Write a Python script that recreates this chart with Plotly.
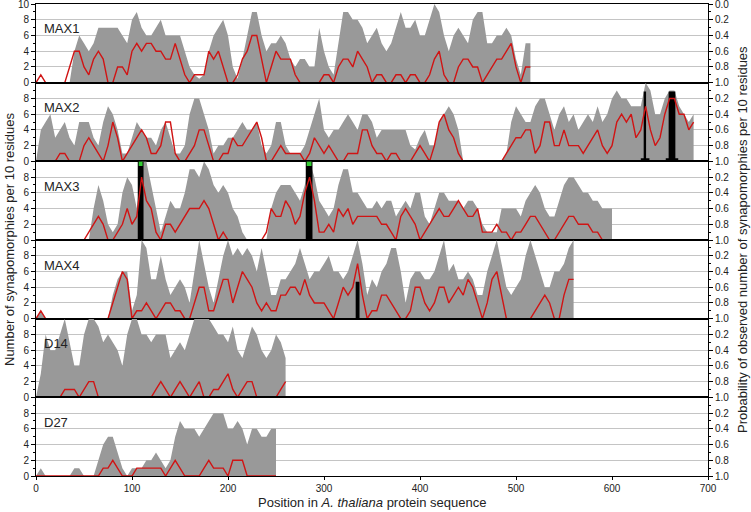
import numpy as np
import plotly.graph_objects as go
from plotly.subplots import make_subplots

# ---------------- data (values sampled every 5 residues) ----------------
PANELS = ["MAX1", "MAX2", "MAX3", "MAX4", "D14", "D27"]
STEP = 5

MAX1_GRAY = [0,0,0,0,0,0,0,0,4,6,
             5,4,5,7,7,7,7,7,6,5,
             8,9,7,6,6,7,8,6,6,6,
             6,4,2,1,0.5,1,4,6,7,8,
             6,2,0.5,3,6,9,9,6,4,5,
             5,6,5,3,2,3,3,2,2,7,
             4,2,1,5,9,9,8,8,7,5,
             6,7,5,4,5,7,9,7,7,8,
             6,6,8,10,9,6,4,6,7,6,
             5,8,9,9,5,5,6,6,7,6,
             3,1,5,5]
MAX1_RED = [0,1,0,0,0,0,0,2,4,4,
            2,1,3,4,3,0,0,2,2,1,
            4,5,4,5,5,4,4,3,3,5,
            3,1,0,1,1,1,4,3,4,2,
            0,0,1,3,4,6,6,3,0,2,
            4,3,3,3,1,0,0,0,0,0,
            1,1,0,2,3,3,2,4,3,2,
            0,1,1,0,0,1,1,0,1,1,
            0,0,1,3,4,1,0,0,2,3,
            3,2,2,0,1,2,3,3,4,5,
            2,0,2,2]

MAX2_GRAY = [0,4,5,6,3,4,5,3,2,5,
             5,5,3,2,5,7,6,4,1,1,
             3,5,4,3,3,2,4,5,3,1,
             1,2,6,8,8,6,4,1,2,2,
             3,3,4,5,4,4,5,2,1,2,
             5,5,2,1,1,1,2,4,6,8,
             4,3,4,4,5,6,5,4,6,6,
             5,3,4,4,4,4,4,4,2,1.5,
             3,4,2,2,5,6,7,6,4,0,
             0,0,0,0,0,0,0,0,1,5,
             7,6,5,5,7,8,8,6,4,6,
             7,5,6,4,5,6,5,7,5,6,
             8,9,8,8,7,7,7,10,9,6,
             6,8,9,9,7,6,5,6]
MAX2_RED = [0,0,0,0,0,1,1,0,0,0,
            2,3,2,1,0,2,5,3,0,1,
            2,3,4,3,1,1,2,5,5,1,
            0,0,1,2,4,4,2,0,0,1,
            1,3,2,2,3,4,5,3,0,0,
            1,2,1,1,1,1,0,1,3,2,
            1,2,1,0,0,1,1,1,4,4,
            2,1,1,0,1,1,0,0,0,1,
            2,1,0,2,5,6,4,3,1,0,
            0,0,0,0,0,0,0,0,1,2,
            3,3,4,4,1,2,5,5,2,2,
            4,2,2,2,1,2,3,4,2,1,
            2,5,6,5,6,3,4,7,4,2,
            3,6,8,8,6,6,4,5]

MAX3_GRAY = [0,0,0,0,0,0,0,0,0,0,
             0,0,4,7,5,2,1,2,6,8,
             7,4,10,10,7,4,1,3,5,4,
             4,6,9,9,8,10,9,7,6,7,
             6,4,3,1,0,0,0,0,0,4,
             6,7,7,7,6,5,7,10,8,5,
             4,3,4,7,9,9,6,6,5,4,
             4,5,4,5,5,3,4,5,4,6,
             6,3,2,4,6,6,5,5,5,4,
             5,5,4,2,1,1,1,4,4,4,
             4,3,5,6,7,6,4,3,3,5,
             7,8,8,7,6,6,5,5,4,4,
             4]
MAX3_RED = [0,0,0,0,0,0,0,0,0,0,
            0,1,2,3,2,0,0,1,2,4,
            2,3,8,5,4,1,0,2,2,1,
            2,3,4,4,4,5,4,2,0,1,
            0,0,0,0,0,0,0,0,1,4,
            3,3,5,4,2,3,6,8,5,1,
            1,2,1,4,3,4,2,3,3,3,
            3,3,2,2,1,0,3,4,3,2,
            0,1,2,3,4,3,3,4,5,4,
            3,3,4,1,1,1,2,1,1,0,
            1,1,2,3,3,2,1,0,0,1,
            2,3,3,2,2,2,1,1,0,0,
            0]

MAX4_GRAY = [0,1,0,0,0,0,0,0,0,0,
             0,0,0,0,0,0,3,5,6,6,
             1,3,10,9,5,5,8,5,3,4,
             5,4,2,6,10,7,4,2,5,8,
             10,8,9,8,9,8,6,9,6,3,
             3,5,5,6,7,9,7,5,6,6,
             7,8,6,6,5,6,8,10,7,3,
             5,4,6,7,9,9,6,2,5,6,
             6,5,5,6,8,10,6,7,5,5,
             6,5,3,3,6,8,10,7,4,3,
             4,5,8,10,8,6,4,4,6,6,
             7,9,10]
MAX4_RED = [0,1,0,0,0,0,0,0,0,0,
            0,0,0,0,0,0,2,4,6,5,
            0,1,1,2,1,0,1,2,2,1,
            1,0,0,2,4,4,1,1,3,5,
            5,2,4,6,5,4,2,1,2,1,
            1,3,3,4,4,3,5,3,2,2,
            2,1,0,2,4,3,4,7,3,0,
            1,1,3,3,2,1,0,0,1,4,
            4,2,1,2,4,4,2,3,4,3,
            5,4,2,0,2,5,6,3,0,0,
            0,0,0,0,1,2,3,2,0,0,
            3,5,5]

D14_GRAY = [0,3,8,6,6,8,10,7,4,4,
            8,10,10,9,7,8,7,6,4,8,
            10,10,8,8,7,8,8,8,5,6,
            7,6,8,10,10,10,10,9,8,8,
            7,9,6,5,7,9,8,6,5,6,
            8,7,5]
D14_RED = [0,0,0,0,0,0,1,1,1,0,
           1,2,2,0,0,0,0,0,0,0,
           0,0,0,0,0,1,2,1,0,1,
           2,1,0,1,2,0,0,1,1,2,
           3,1,0,1,2,2,0,0,0,0,
           0,1,2]

D27_GRAY = [0,1,0,0,0,0,0,0,1,1,
            0,0,0,2,4,5,5,3,1,0,
            1,1,1,2,2,3,2,1,2,5,
            7,6,6,6,5,6,7,8,8,8,
            6,6,7,6,4,6,6,5,5,6,
            6]
D27_RED = [0,0,0,0,0,0,0,0,0,0,
           0,0,0,0,1,1,2,1,0,0,
           0,1,1,1,1,1,1,0,1,2,
           1,0,0,0,0,1,2,1,1,1,
           0,2,2,2,0,0,0,0,0,0,
           0]

# significant windows (black bars) and marks
BAR_PANEL = ["MAX2", "MAX2", "MAX2", "MAX2", "MAX3", "MAX3", "MAX4"]
BAR_START = [630, 633, 656, 659, 106, 281, 333]
BAR_END = [639, 635.5, 669, 666, 112, 288, 337]
BAR_TOP = [0.4, 8.9, 0.4, 8.9, 10, 10, 4.7]
MARK_PANEL = ["MAX3", "MAX3"]
MARK_START = [107, 282]
MARK_END = [111, 287]
MARK_LOW = [9.4, 9.4]

LEFT_TICKS = [0, 2, 4, 6, 8]
RIGHT_TICKS = [0.2, 0.4, 0.6, 0.8, 1.0]
X_TICKS = [0, 100, 200, 300, 400, 500, 600, 700]

GRAY = dict(MAX1=MAX1_GRAY, MAX2=MAX2_GRAY, MAX3=MAX3_GRAY, MAX4=MAX4_GRAY, D14=D14_GRAY, D27=D27_GRAY)
RED = dict(MAX1=MAX1_RED, MAX2=MAX2_RED, MAX3=MAX3_RED, MAX4=MAX4_RED, D14=D14_RED, D27=D27_RED)

# ---------------- figure ----------------
GRAY_C = "#999999"
RED_C = "#d01414"
FONT = "Liberation Sans, Arial, sans-serif"
TXT = "#222222"

fig = make_subplots(rows=6, cols=1, shared_xaxes=True, vertical_spacing=0,
                    specs=[[{"secondary_y": True}] for _ in range(6)])

for i, name in enumerate(PANELS, start=1):
    g = GRAY[name]
    r = RED[name]
    fig.add_trace(go.Scatter(x=np.arange(len(g)) * STEP, y=g, mode="lines",
                             line=dict(width=0, color=GRAY_C), fill="tozeroy",
                             fillcolor=GRAY_C, hoverinfo="skip", showlegend=False),
                  row=i, col=1, secondary_y=False)
    for p, s, e, t in zip(BAR_PANEL, BAR_START, BAR_END, BAR_TOP):
        if p == name:
            fig.add_trace(go.Scatter(x=[s, s, e, e, s], y=[0, t, t, 0, 0], mode="lines",
                                     line=dict(width=0, color="black"), fill="toself",
                                     fillcolor="black", hoverinfo="skip", showlegend=False),
                          row=i, col=1, secondary_y=False)
    fig.add_trace(go.Scatter(x=np.arange(len(r)) * STEP, y=r, mode="lines",
                             line=dict(width=1.4, color=RED_C), hoverinfo="skip",
                             showlegend=False),
                  row=i, col=1, secondary_y=False)
    for p, s, e, lo in zip(MARK_PANEL, MARK_START, MARK_END, MARK_LOW):
        if p == name:
            fig.add_trace(go.Scatter(x=[s, s, e, e, s], y=[lo, 10, 10, lo, lo], mode="lines",
                                     line=dict(width=0, color="#33cc33"), fill="toself",
                                     fillcolor="#33cc33", hoverinfo="skip", showlegend=False),
                          row=i, col=1, secondary_y=False)
    # invisible trace to anchor the right-hand probability axis
    fig.add_trace(go.Scatter(x=[0, 700], y=[1, 1], mode="lines", line=dict(width=0),
                             opacity=0, hoverinfo="skip", showlegend=False),
                  row=i, col=1, secondary_y=True)

    lt = LEFT_TICKS + ([10] if i == 1 else [])
    rt = ([0.0] if i == 1 else []) + RIGHT_TICKS
    fig.update_yaxes(range=[0, 10.01], tickvals=lt, ticktext=[str(v) for v in lt],
                     automargin=False, ticklabeloverflow="allow",
                     showgrid=True, gridcolor="#c4c4c4", gridwidth=1, zeroline=False,
                     showline=True, linecolor="black", linewidth=1,
                     ticks="outside", ticklen=4, tickcolor="black",
                     minor=dict(dtick=1, tick0=0, ticks="outside", ticklen=2,
                                tickcolor="black", showgrid=False),
                     tickfont=dict(size=10, color=TXT, family=FONT),
                     row=i, col=1, secondary_y=False)
    fig.update_yaxes(range=[1, -0.001], tickvals=rt, ticktext=["%.1f" % v for v in rt],
                     automargin=False, ticklabeloverflow="allow",
                     showgrid=False, zeroline=False,
                     showline=True, linecolor="black", linewidth=1,
                     ticks="outside", ticklen=4, tickcolor="black",
                     minor=dict(dtick=0.1, tick0=0, ticks="outside", ticklen=2,
                                tickcolor="black", showgrid=False),
                     tickfont=dict(size=10, color=TXT, family=FONT),
                     row=i, col=1, secondary_y=True)
    fig.update_xaxes(range=[0, 700], domain=[0, 1], showline=True, mirror=True,
                     linecolor="black", linewidth=1, showgrid=False, zeroline=False,
                     automargin=False, ticklabeloverflow="allow",
                     tickvals=X_TICKS, ticks="outside" if i == 6 else "",
                     ticklen=3, tickcolor="black",
                     showticklabels=(i == 6),
                     tickfont=dict(size=10, color=TXT, family=FONT),
                     row=i, col=1)

# panel labels
PLOT_H = 472.0
for i, name in enumerate(PANELS):
    top_px = i * PLOT_H / 6.0
    fig.add_annotation(text=name, xref="paper", yref="paper", x=6 / 672.0,
                       y=1 - (top_px + 25) / PLOT_H, xanchor="left", yanchor="middle",
                       showarrow=False, font=dict(size=13, color=TXT, family=FONT))

fig.add_annotation(text="Number of synapomorphies per 10 residues", xref="paper", yref="paper",
                   x=(9 - 36) / 672.0, y=0.5, textangle=-90, showarrow=False,
                   xanchor="center", yanchor="middle",
                   font=dict(size=13, color=TXT, family=FONT))
fig.add_annotation(text="Probability of observed number of synapomorphies per 10 residues",
                   xref="paper", yref="paper", x=(742 - 36) / 672.0, y=0.5, textangle=-90,
                   showarrow=False, xanchor="center", yanchor="middle",
                   font=dict(size=13, color=TXT, family=FONT))
fig.add_annotation(text="Position in <i>A. thaliana</i> protein sequence", xref="paper",
                   yref="paper", x=0.5, y=(476 - 502) / PLOT_H, showarrow=False,
                   xanchor="center", yanchor="middle",
                   font=dict(size=13, color=TXT, family=FONT))

fig.update_layout(width=751, height=512, margin=dict(l=36, r=43, t=4, b=36, autoexpand=False),
                  paper_bgcolor="white", plot_bgcolor="white", showlegend=False,
                  font=dict(family=FONT, color=TXT))

fig.write_html("out.html", config={"displayModeBar": False, "staticPlot": True},
               post_script="document.body.style.margin='0';document.body.style.padding='0';")
